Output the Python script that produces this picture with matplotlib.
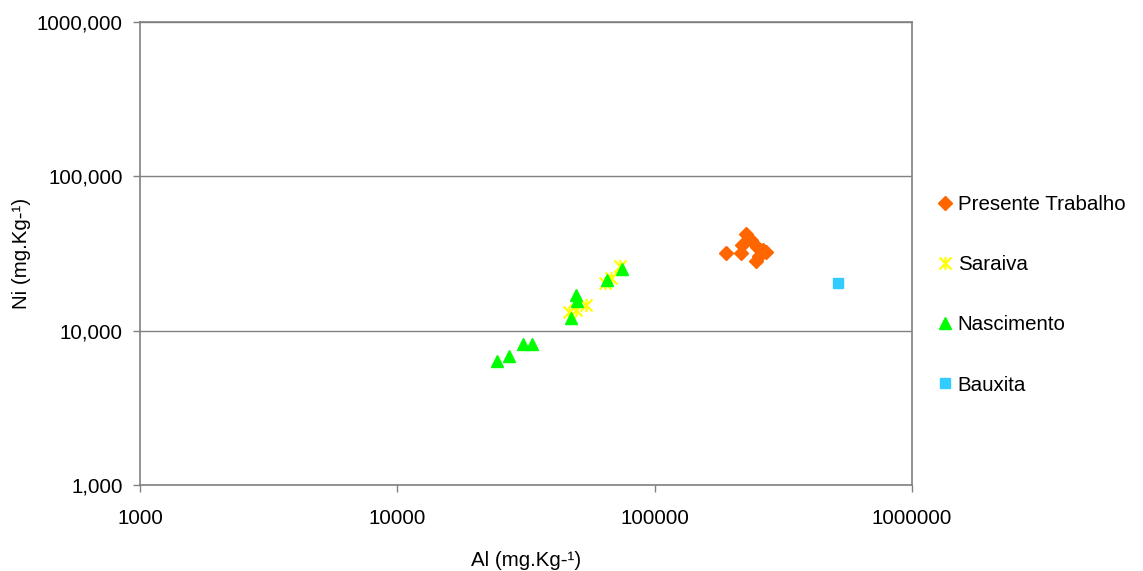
import numpy as np
import matplotlib
matplotlib.use('Agg')
import matplotlib.pyplot as plt
from matplotlib.path import Path
from matplotlib.ticker import FuncFormatter, FixedLocator, NullLocator

# data (Al and Ni in mg/kg)
presente_al = [189000, 216500, 218500, 226400, 236800, 249800, 263700, 270900, 247600, 254400]
presente_ni = [31.9, 31.9, 35.9, 42.3, 38.7, 34.8, 33.3, 32.3, 28.3, 30.5]

saraiva_al = [46460, 49470, 54100, 64120, 67650, 73330]
saraiva_ni = [13.2, 13.6, 14.7, 20.4, 21.9, 26.2]

nascimento_al = [24400, 27160, 30790, 33370, 47300, 49920, 49470, 65280, 74660]
nascimento_ni = [6.36, 6.85, 8.20, 8.20, 12.08, 15.6, 17.0, 21.3, 25.1]

bauxita_al = [514400]
bauxita_ni = [20.3]

x_ticks = [1000, 10000, 100000, 1000000]
y_ticks = [1, 10, 100, 1000]

plt.rcParams['font.family'] = ['Liberation Sans', 'DejaVu Sans']
fs = 14.8

# asterisk like the excel "star" marker
star = Path([(-1, -1), (1, 1), (-1, 1), (1, -1), (0, -1.1), (0, 1.1)],
            [Path.MOVETO, Path.LINETO, Path.MOVETO, Path.LINETO, Path.MOVETO, Path.LINETO])

fig = plt.figure(figsize=(11.43, 5.71), dpi=100)
ax = fig.add_axes([140 / 1143, 1 - 485 / 571, 772 / 1143, 463 / 571])

ax.plot(presente_al, presente_ni, linestyle='none', marker='D', ms=7.6,
        color='#FF6600', mec='#FF6600', label='Presente Trabalho')
ax.plot(saraiva_al, saraiva_ni, linestyle='none', marker=star, ms=9.5,
        color='#FFFF00', mec='#FFFF00', mew=1.6, label='Saraiva')
ax.plot(nascimento_al, nascimento_ni, linestyle='none', marker='^', ms=8.8,
        color='#00FF00', mec='#00FF00', label='Nascimento')
ax.plot(bauxita_al, bauxita_ni, linestyle='none', marker='s', ms=7,
        color='#33CCFF', mec='#33CCFF', label='Bauxita')

ax.set_xscale('log')
ax.set_yscale('log')
ax.set_xlim(1000, 1000000)
ax.set_ylim(1, 1000)

ax.xaxis.set_major_locator(FixedLocator(x_ticks))
ax.yaxis.set_major_locator(FixedLocator(y_ticks))
ax.xaxis.set_minor_locator(NullLocator())
ax.yaxis.set_minor_locator(NullLocator())
ax.xaxis.set_major_formatter(FuncFormatter(lambda v, p: '%d' % int(round(v))))
ax.yaxis.set_major_formatter(FuncFormatter(lambda v, p: ('%.3f' % v).replace('.', ',')))

ax.yaxis.grid(True, color='#808080', linewidth=1)
ax.set_axisbelow(True)
for s in ax.spines.values():
    s.set_color('#808080')
    s.set_linewidth(1.2)
ax.tick_params(axis='both', direction='out', length=5, width=1, color='#808080',
               labelsize=fs)
ax.tick_params(axis='x', pad=12)
ax.tick_params(axis='y', pad=7.5)

ax.set_xlabel('Al (mg.Kg-\u00b9)', fontsize=fs, labelpad=17)
ax.set_ylabel('Ni (mg.Kg-\u00b9)', fontsize=fs, labelpad=4)

fig.legend(loc='upper left', bbox_to_anchor=(926 / 1143, 1 - 185 / 571), frameon=False,
           fontsize=fs, labelspacing=2.0, handlelength=0.8, handletextpad=0.25,
           borderpad=0, numpoints=1)

fig.savefig('out.png', dpi=100)
